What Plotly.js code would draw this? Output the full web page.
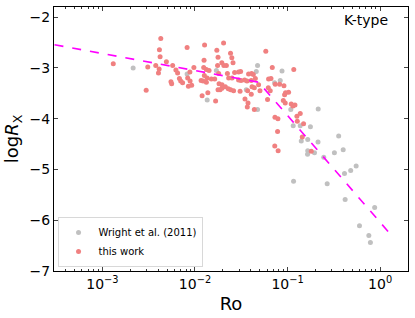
<!DOCTYPE html>
<html><head><meta charset="utf-8">
<script src="https://cdn.plot.ly/plotly-3.0.1.min.js"></script>
<style>html,body{margin:0;padding:0;background:#fff}#plot{width:415px;height:318px}</style>
</head><body><div id="plot"></div>
<script>
// Wright et al. (2011) sample
const wrightRo = [0.002148,0.00822,0.01355,0.01702,0.04742,0.04592,0.03581,0.04742,0.07244,0.0871,0.08337,0.1084,0.1151,0.1371,0.1766,0.2143,0.1406,0.1652,0.2133,0.3565,0.399,0.3206,0.1652,0.1644,0.1954,0.246,0.1161,0.2679,0.4121,0.4808,0.5508,0.4188,0.873,0.5984,0.755,0.785];
const wrightLogRx = [-3.00,-3.12,-3.63,-3.05,-2.95,-3.07,-3.43,-3.82,-3.29,-3.06,-3.25,-3.82,-4.14,-4.14,-4.16,-3.81,-4.44,-4.41,-4.46,-4.34,-4.61,-4.67,-4.63,-4.70,-4.67,-4.76,-5.23,-5.28,-5.08,-5.02,-4.93,-5.59,-5.75,-6.11,-6.30,-6.44];
// this work
const thisRo = [0.00131,0.00309,0.00297,0.00427,0.00413,0.0042,0.00377,0.0041,0.00403,0.00491,0.00574,0.0055,0.0056,0.00622,0.00649,0.00679,0.00701,0.00735,0.00822,0.00834,0.00885,0.00849,0.00921,0.00973,0.00881,0.0127,0.01253,0.01242,0.01327,0.01419,0.01262,0.01352,0.01164,0.01222,0.01327,0.01503,0.01194,0.01377,0.02037,0.01722,0.01774,0.01754,0.0195,0.02051,0.02183,0.02576,0.02421,0.025,0.01803,0.02239,0.02679,0.01633,0.0182,0.01959,0.02128,0.01774,0.01866,0.01959,0.02291,0.02427,0.02612,0.01671,0.0582,0.02958,0.03112,0.03793,0.04093,0.04266,0.02312,0.02512,0.02958,0.03141,0.03436,0.03648,0.04055,0.04487,0.03069,0.03707,0.0413,0.04375,0.04864,0.05035,0.06839,0.06237,0.06622,0.07362,0.08204,0.09141,0.1167,0.06194,0.06501,0.09506,0.1026,0.0929,0.04055,0.03467,0.03741,0.06081,0.08995,0.09441,0.1096,0.1143,0.03673,0.04375,0.1202,0.1371,0.1262,0.07311,0.0787,0.1274,0.1489,0.078,0.1442,0.07278,0.0791,0.1803];
const thisLogRx = [-2.92,-2.98,-3.44,-2.42,-2.64,-2.78,-2.95,-3.02,-3.10,-2.88,-2.95,-3.27,-3.31,-3.04,-3.10,-3.21,-3.26,-3.29,-2.60,-3.20,-3.26,-3.36,-3.34,-2.99,-3.08,-2.55,-2.85,-2.99,-3.03,-3.05,-3.15,-3.20,-3.25,-3.26,-3.28,-3.22,-3.55,-3.49,-2.51,-2.65,-2.79,-2.95,-2.90,-2.95,-2.95,-2.90,-2.71,-2.80,-3.11,-3.11,-3.09,-3.22,-3.31,-3.33,-3.37,-3.43,-3.43,-3.40,-3.41,-3.43,-3.45,-3.65,-2.67,-3.08,-3.07,-3.12,-3.11,-3.13,-3.20,-3.20,-3.24,-3.25,-3.24,-3.26,-3.25,-3.21,-3.46,-3.45,-3.37,-3.39,-3.33,-3.45,-2.99,-3.22,-3.21,-3.32,-3.32,-3.35,-3.03,-3.39,-3.45,-3.49,-3.48,-3.53,-3.52,-3.61,-3.69,-3.62,-3.64,-3.69,-3.71,-3.75,-3.77,-3.82,-3.73,-3.90,-3.95,-3.97,-4.00,-4.05,-4.10,-4.25,-4.36,-4.54,-4.63,-4.64];
// broken power-law fit
const fitRo = [3.04e-4, 0.0487, 1.39];
const fitLogRx = [-2.543, -3.282, -6.341];
const xTickVals = [0.001, 0.01, 0.1, 1];
const xTickText = ['10<sup>\u22123</sup>','10<sup>\u22122</sup>','10<sup>\u22121</sup>','10<sup>0</sup>'];
const xMinorTicks = [4e-4,5e-4,6e-4,7e-4,8e-4,9e-4,
  2e-3,3e-3,4e-3,5e-3,6e-3,7e-3,8e-3,9e-3,
  0.02,0.03,0.04,0.05,0.06,0.07,0.08,0.09,
  0.2,0.3,0.4,0.5,0.6,0.7,0.8,0.9,2];
const yTickVals = [-7,-6,-5,-4,-3,-2];

const font = 'DejaVu Sans, sans-serif';
const traces = [
  {x: wrightRo, y: wrightLogRx, mode:'markers', type:'scatter', name:'Wright et al. (2011)',
   marker:{color:'#c0c0c0', size:5}},
  {x: thisRo, y: thisLogRx, mode:'markers', type:'scatter', name:'this work',
   marker:{color:'#f08080', size:5}},
  {x: fitRo, y: fitLogRx, mode:'lines', type:'scatter', showlegend:false,
   line:{color:'#ff00ff', width:1.6, dash:'dash'}}
];
const layout = {
  width:415, height:318,
  margin:{l:54, r:7, t:7, b:47},
  paper_bgcolor:'#fff', plot_bgcolor:'#fff',
  font:{family:font, color:'#000', size:14},
  showlegend:true,
  legend:{x:0.01, y:0.015, xanchor:'left', yanchor:'bottom', bgcolor:'rgba(255,255,255,0.8)',
    bordercolor:'#d8d8d8', borderwidth:1, font:{size:10, family:font}, tracegroupgap:0, itemwidth:30},
  xaxis:{type:'log', range:[Math.log10(3e-4), Math.log10(2)], tickmode:'array', tickvals:xTickVals, ticktext:xTickText,
    ticks:'inside', ticklen:4, tickwidth:1, showline:true, linecolor:'#000', linewidth:1, mirror:'allticks',
    showgrid:false, zeroline:false, tickfont:{size:14},
    minor:{tickmode:'array', tickvals:xMinorTicks, ticks:'inside', ticklen:2, tickwidth:0.8, tickcolor:'#000', showgrid:false},
    title:{text:'Ro', font:{size:18}, standoff:6}},
  yaxis:{range:[-7,-1.8], tickvals:yTickVals, ticks:'inside', ticklen:4, tickwidth:1,
    showline:true, linecolor:'#000', linewidth:1, mirror:'allticks', showgrid:false, zeroline:false,
    tickfont:{size:14},
    title:{text:'log<i>R</i><sub>X</sub>', font:{size:18}, standoff:6}},
  annotations:[{text:'K-type', xref:'paper', yref:'paper', x:0.948, y:0.951, xanchor:'right', yanchor:'middle',
    showarrow:false, font:{size:14, family:font}}]
};
Plotly.newPlot('plot', traces, layout, {displayModeBar:false, staticPlot:true});
</script></body></html>
